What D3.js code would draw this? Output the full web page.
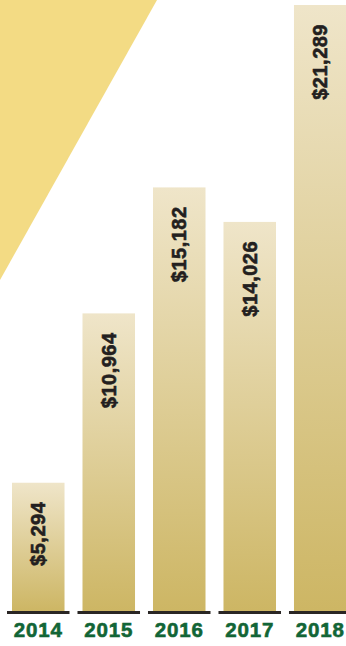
<!DOCTYPE html>
<html>
<head>
<meta charset="utf-8">
<script src="https://cdn.jsdelivr.net/npm/d3@7/dist/d3.min.js"></script>
<style>
  html, body { margin: 0; padding: 0; background: #ffffff; }
  svg { display: block; }
</style>
</head>
<body>
<svg id="chart" width="346" height="646"></svg>
<script>
// Annual totals, one bar per year
const years = ["2014", "2015", "2016", "2017", "2018"];
const amounts = [5294, 10964, 15182, 14026, 21289];

const W = 346, H = 646;
const baseY = 611;

const svg = d3.select("#chart");

// Decorative wedge in the upper-left corner
svg.append("path")
  .attr("d", "M0,0 L157,0 L0,280 Z")
  .attr("fill", "#f3db84");

// Per-bar vertical gradient: cream at the top, gold at the bottom
const defs = svg.append("defs");
const grad = defs.append("linearGradient")
  .attr("id", "barGrad")
  .attr("x1", 0).attr("y1", 0).attr("x2", 0).attr("y2", 1);
grad.append("stop").attr("offset", "0%").attr("stop-color", "#efe5c9");
grad.append("stop").attr("offset", "100%").attr("stop-color", "#cdb664");

const x = d3.scaleBand()
  .domain(years)
  .range([12, 346.5])
  .paddingInner(0.255)
  .paddingOuter(0);

const y = d3.scaleLinear()
  .domain([1000, 21289])
  .range([baseY, 5]);

const data = years.map((yr, i) => ({ year: yr, value: amounts[i] }));

// Bars
svg.selectAll("rect.bar")
  .data(data)
  .join("rect")
  .attr("class", "bar")
  .attr("x", d => x(d.year))
  .attr("y", d => y(d.value))
  .attr("width", x.bandwidth())
  .attr("height", d => baseY - y(d.value))
  .attr("fill", "url(#barGrad)");

// Short baseline segment under each bar
svg.selectAll("line.base")
  .data(data)
  .join("line")
  .attr("class", "base")
  .attr("x1", d => x(d.year) - 5)
  .attr("x2", d => x(d.year) + x.bandwidth() + 5)
  .attr("y1", baseY + 1.5)
  .attr("y2", baseY + 1.5)
  .attr("stroke", "#2a2624")
  .attr("stroke-width", 3);

// Rotated value labels near the top of each bar
const fmt = d3.format("$,");
svg.selectAll("text.val")
  .data(data)
  .join("text")
  .attr("class", "val")
  .attr("transform", d => `translate(${x(d.year) + x.bandwidth() / 2},${y(d.value) + 19}) rotate(-90)`)
  .attr("text-anchor", "end")
  .attr("dy", "0.35em")
  .attr("font-family", "'Liberation Sans', Arial, sans-serif")
  .attr("font-weight", "bold")
  .attr("font-size", 20)
  .attr("letter-spacing", 0.5)
  .attr("fill", "#231f20")
  .attr("stroke", "#231f20")
  .attr("stroke-width", 0.6)
  .text(d => fmt(d.value));

// Year labels below the baseline
svg.selectAll("text.year")
  .data(data)
  .join("text")
  .attr("class", "year")
  .attr("x", d => x(d.year) + x.bandwidth() / 2)
  .attr("y", 637)
  .attr("text-anchor", "middle")
  .attr("font-family", "'Liberation Sans', Arial, sans-serif")
  .attr("font-weight", "bold")
  .attr("font-size", 20.5)
  .attr("letter-spacing", 0.8)
  .attr("fill", "#126536")
  .attr("stroke", "#126536")
  .attr("stroke-width", 0.6)
  .text(d => d.year);
</script>
</body>
</html>
